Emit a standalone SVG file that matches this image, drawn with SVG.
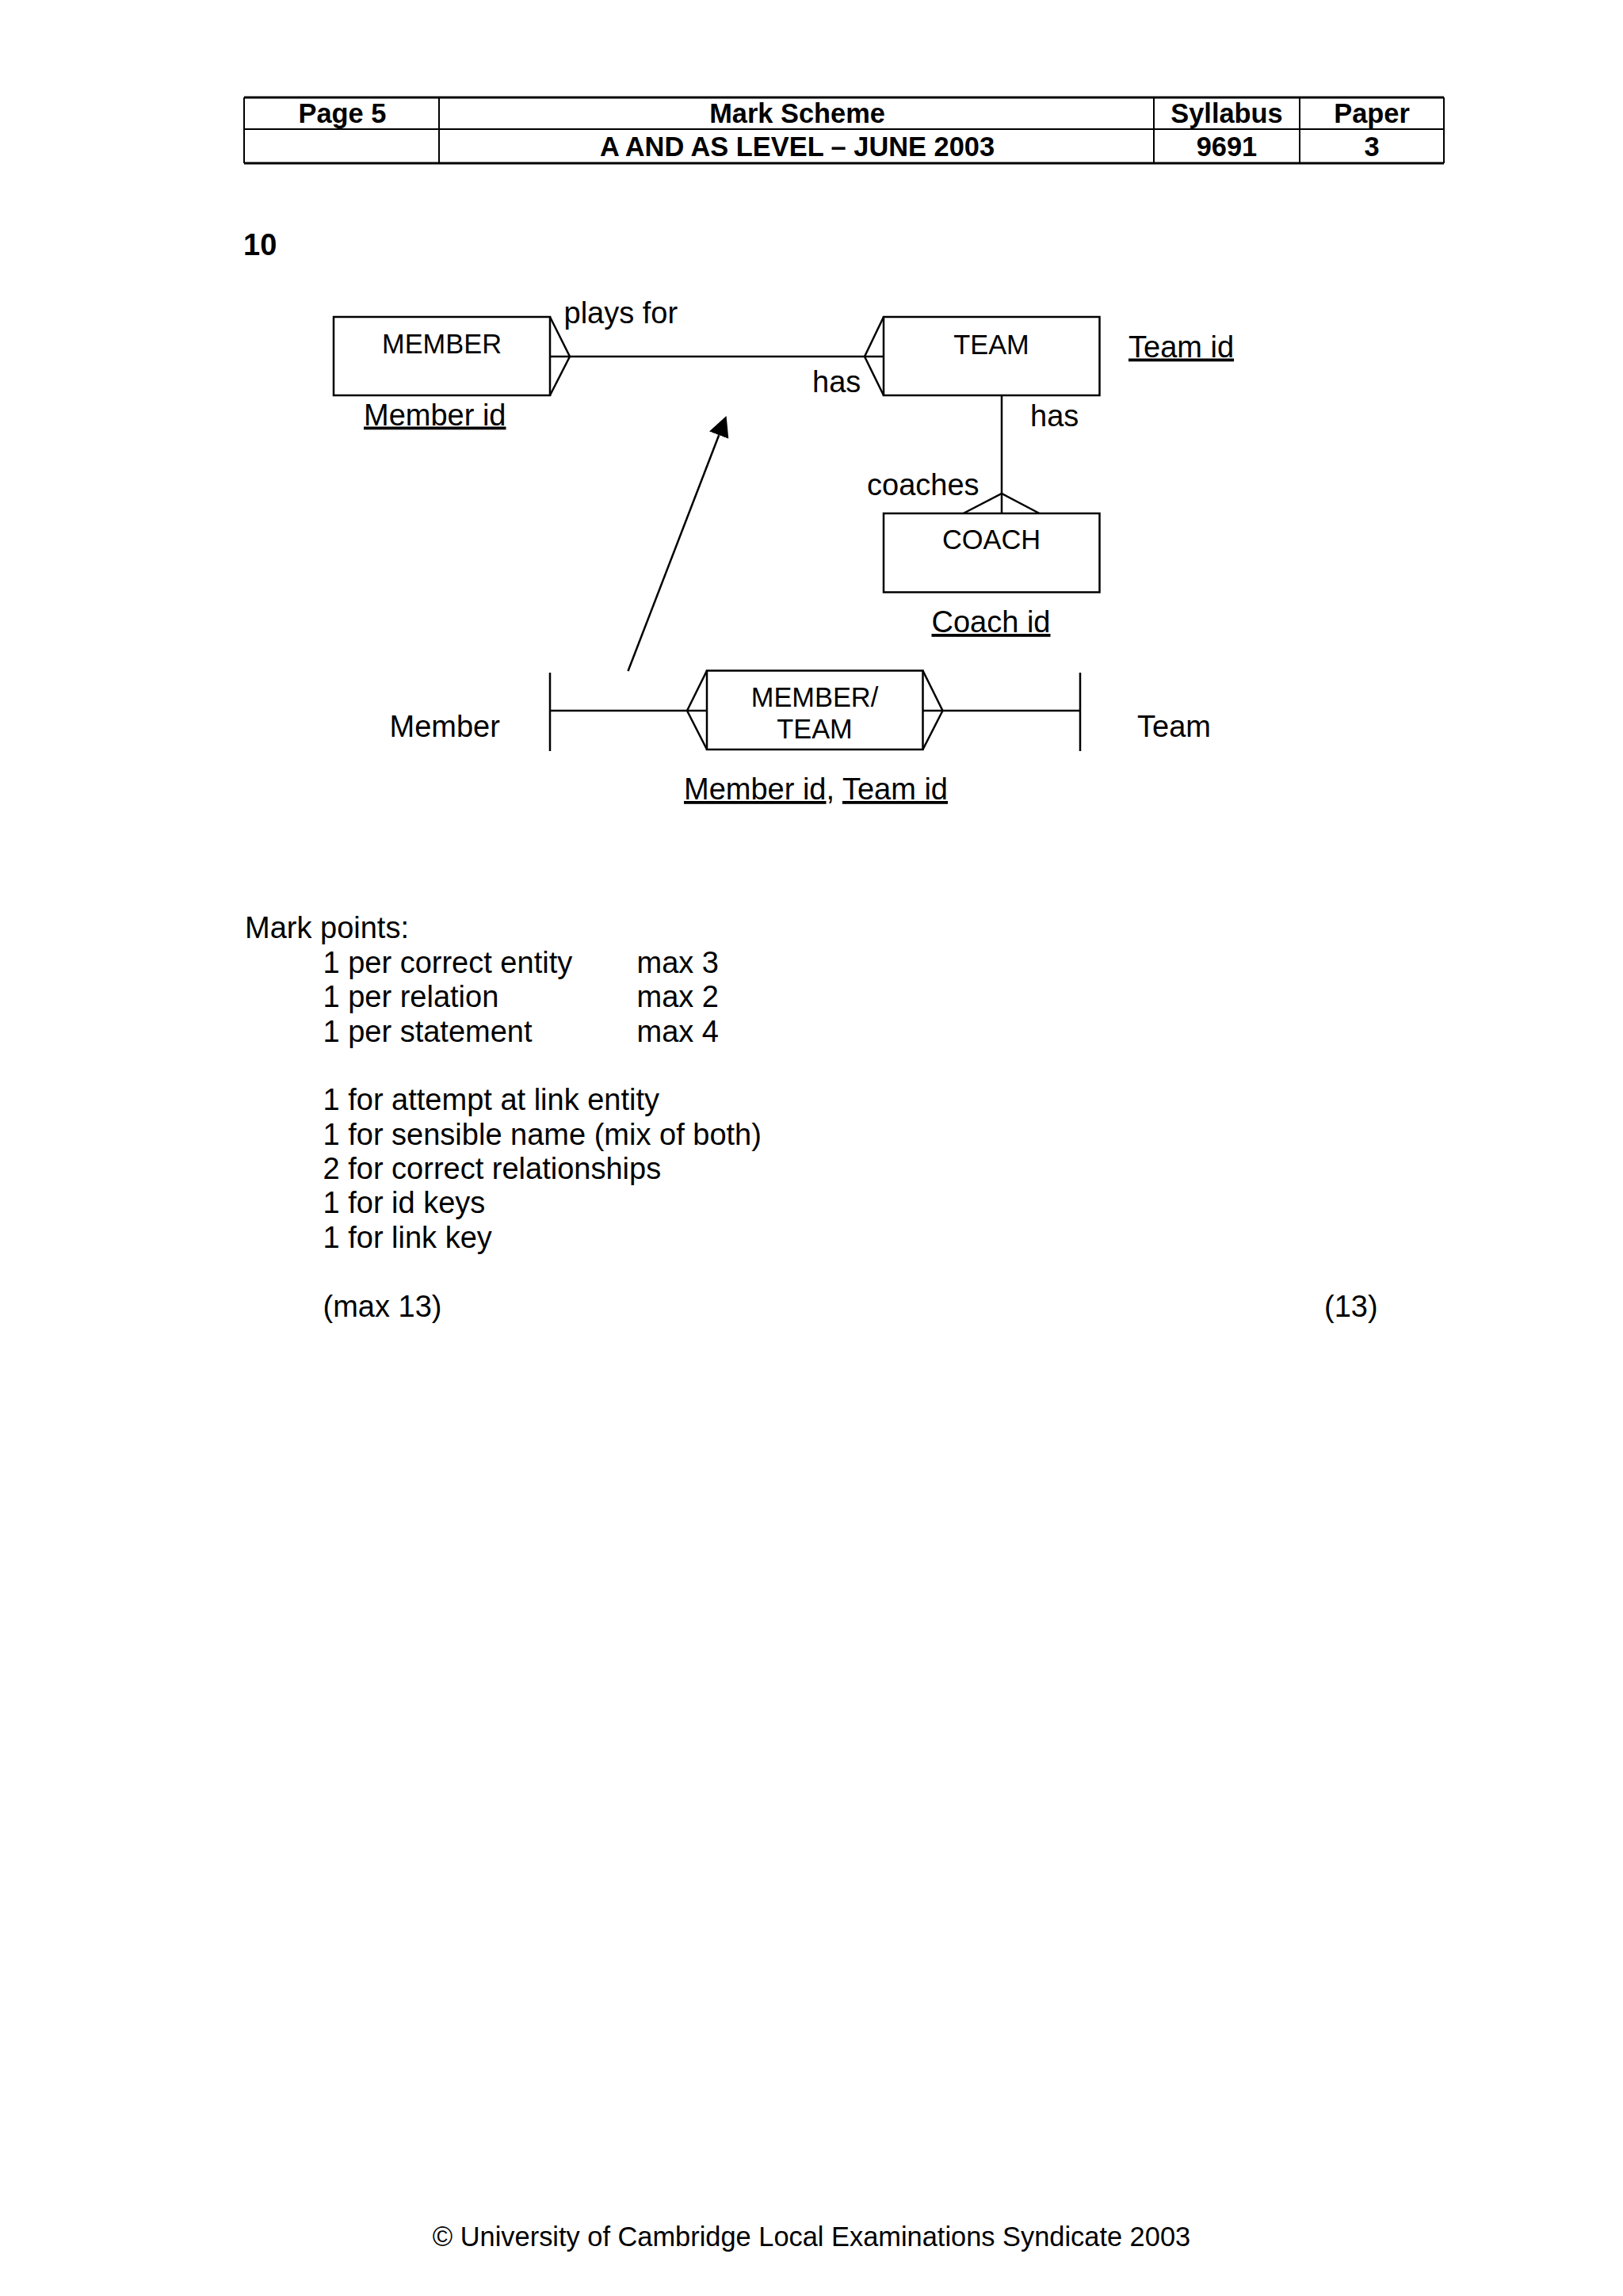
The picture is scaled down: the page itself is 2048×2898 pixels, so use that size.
<svg xmlns="http://www.w3.org/2000/svg" width="2048" height="2898" viewBox="0 0 2048 2898">
<style>
text{font-family:"Liberation Sans",Arial,sans-serif;fill:#000}
.hd{font-size:34.4px;font-weight:bold;text-anchor:middle}
.ent{font-size:34.4px;text-anchor:middle}
.lb{font-size:38px}
.u{text-decoration:underline}
.box{fill:#fff;stroke:#000;stroke-width:2.5}
.ln{fill:none;stroke:#000;stroke-width:2.5}
.tb{stroke:#000;stroke-width:2}
.tbk{stroke:#000;stroke-width:3}
</style>
<defs>
<marker id="ah" markerUnits="userSpaceOnUse" viewBox="0 0 26 26" refX="0" refY="13" markerWidth="26" markerHeight="26" orient="auto">
<path d="M0,0 L26,13 L0,26 Z" fill="#000"/>
</marker>
</defs>
<rect width="2048" height="2898" fill="#fff"/>
<g id="header">
<line class="tbk" x1="308" y1="123" x2="1822" y2="123"/>
<line class="tb" x1="308" y1="163" x2="1822" y2="163"/>
<line class="tbk" x1="308" y1="206" x2="1822" y2="206"/>
<line class="tb" x1="308" y1="123" x2="308" y2="206"/>
<line class="tb" x1="554" y1="123" x2="554" y2="206"/>
<line class="tb" x1="1456" y1="123" x2="1456" y2="206"/>
<line class="tb" x1="1640" y1="123" x2="1640" y2="206"/>
<line class="tb" x1="1822" y1="123" x2="1822" y2="206"/>
<text class="hd" x="432" y="155">Page 5</text>
<text class="hd" x="1006" y="155">Mark Scheme</text>
<text class="hd" x="1548" y="155">Syllabus</text>
<text class="hd" x="1731" y="155">Paper</text>
<text class="hd" x="1006" y="197">A AND AS LEVEL – JUNE 2003</text>
<text class="hd" x="1548" y="197">9691</text>
<text class="hd" x="1731" y="197">3</text>
</g>
<text x="307" y="322" style="font-size:38px;font-weight:bold">10</text>
<g id="connectors">
<line class="ln" x1="694" y1="450" x2="1115" y2="450"/>
<polyline class="ln" points="694,400 719,450 694,499"/>
<polyline class="ln" points="1115,400 1091,450 1115,499"/>
<line class="ln" x1="1264" y1="499" x2="1264" y2="648"/>
<polyline class="ln" points="1215.6,648 1264,623 1311.6,648"/>
<line class="ln" x1="694" y1="849" x2="694" y2="948"/>
<line class="ln" x1="694" y1="897" x2="892" y2="897"/>
<polyline class="ln" points="892,846.5 867,897 892,946"/>
<line class="ln" x1="1164.5" y1="897" x2="1363" y2="897"/>
<line class="ln" x1="1363" y1="849" x2="1363" y2="948"/>
<polyline class="ln" points="1164.5,846.5 1189.5,897 1164.5,946"/>
<line class="ln" x1="792.5" y1="847" x2="907.2" y2="549.2" marker-end="url(#ah)"/>
</g>
<g id="member">
<rect class="box" x="421" y="400" width="273" height="99"/>
<text class="ent" x="557.5" y="446">MEMBER</text>
</g>
<g id="team">
<rect class="box" x="1115" y="400" width="272.5" height="99"/>
<text class="ent" x="1251" y="446.5">TEAM</text>
</g>
<g id="coach">
<rect class="box" x="1115" y="648" width="272.5" height="99.5"/>
<text class="ent" x="1251" y="693">COACH</text>
</g>
<g id="member-team">
<rect class="box" x="892" y="846.5" width="272.5" height="99.5"/>
<text class="ent" x="1028" y="891.5">MEMBER/</text>
<text class="ent" x="1028" y="931.5">TEAM</text>
</g>
<g id="labels" class="lb">
<text class="lb" x="711.5" y="407.5">plays for</text>
<text class="lb" x="1025" y="495">has</text>
<text class="lb" x="1300" y="538">has</text>
<text class="lb" x="1094" y="625">coaches</text>
<text class="lb u" x="1424" y="450.5">Team id</text>
<text class="lb u" x="459" y="536.5">Member id</text>
<text class="lb u" x="1175.5" y="798">Coach id</text>
<text class="lb" x="491.5" y="930">Member</text>
<text class="lb" x="1435" y="930">Team</text>
<text class="lb" x="863" y="1009"><tspan class="u">Member id</tspan>, <tspan class="u">Team id</tspan></text>
</g>
<g id="markpoints">
<text class="lb" x="309" y="1184">Mark points:</text>
<text class="lb" x="407.5" y="1227.5">1 per correct entity</text>
<text class="lb" x="803.5" y="1227.5">max 3</text>
<text class="lb" x="407.5" y="1271">1 per relation</text>
<text class="lb" x="803.5" y="1271">max 2</text>
<text class="lb" x="407.5" y="1314.5">1 per statement</text>
<text class="lb" x="803.5" y="1314.5">max 4</text>
<text class="lb" x="407.5" y="1401">1 for attempt at link entity</text>
<text class="lb" x="407.5" y="1444.5">1 for sensible name (mix of both)</text>
<text class="lb" x="407.5" y="1488">2 for correct relationships</text>
<text class="lb" x="407.5" y="1531">1 for id keys</text>
<text class="lb" x="407.5" y="1574.5">1 for link key</text>
<text class="lb" x="407.5" y="1661.5">(max 13)</text>
<text class="lb" x="1671" y="1662">(13)</text>
</g>
<text x="1024" y="2835" style="font-size:34.4px;text-anchor:middle">© University of Cambridge Local Examinations Syndicate 2003</text>
</svg>
